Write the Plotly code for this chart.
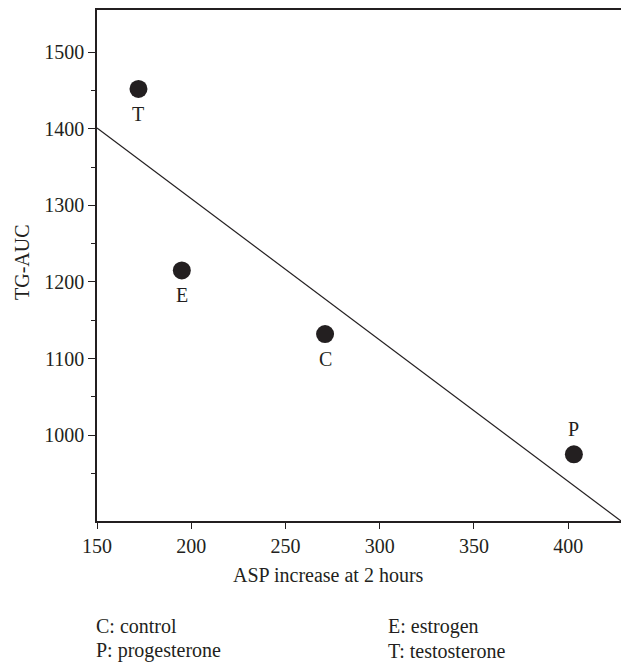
import plotly.graph_objects as go

# Data
groups = ["C", "E", "P", "T"]
asp_increase = [271, 195, 403, 172]
tg_auc = [1132, 1215, 975, 1452]
label_above = [False, False, True, False]

fit_x = [150, 428]
fit_y = [1401, 888]

legend_left = ["C: control", "P: progesterone"]
legend_right = ["E: estrogen", "T: testosterone"]

y_ticks = [1000, 1100, 1200, 1300, 1400, 1500]
x_ticks = [150, 200, 250, 300, 350, 400]

ink = "#231f20"
font_family = "Liberation Serif, Times New Roman, serif"
fs = 20

fig = go.Figure()
fig.add_trace(go.Scatter(
    x=fit_x, y=fit_y, mode="lines",
    line=dict(color=ink, width=1.2), hoverinfo="skip", showlegend=False,
))
fig.add_trace(go.Scatter(
    x=asp_increase, y=tg_auc, mode="markers",
    marker=dict(size=18, color=ink), showlegend=False,
))

W, H = 621, 662
ml, mr, mt, mb = 97, 0, 10, 141
pw = W - ml - mr
ph = H - mt - mb

def px_to_paper_x(px):
    return (px - ml) / pw

def px_to_paper_y(py):
    return (H - mb - py) / ph

annotations = []
for g, xv, yv, above in zip(groups, asp_increase, tg_auc, label_above):
    annotations.append(dict(text=g, x=xv, y=yv, xref="x", yref="y", showarrow=False,
                            xanchor="center", yanchor="middle",
                            yshift=25 if above else -25,
                            font=dict(family=font_family, size=fs, color=ink)))
annotations += [
    dict(text="ASP increase at 2 hours", x=px_to_paper_x(328), y=px_to_paper_y(575),
         xref="paper", yref="paper", showarrow=False, xanchor="center", yanchor="middle",
         font=dict(family=font_family, size=fs, color=ink)),
    dict(text="TG-AUC", x=px_to_paper_x(22), y=px_to_paper_y(262),
         xref="paper", yref="paper", showarrow=False, xanchor="center", yanchor="middle",
         textangle=-90, font=dict(family=font_family, size=fs, color=ink)),
]
for i, t in enumerate(legend_left):
    annotations.append(dict(text=t, x=px_to_paper_x(94), y=px_to_paper_y(626 + i * 25),
                            xref="paper", yref="paper", showarrow=False,
                            xanchor="left", yanchor="middle",
                            font=dict(family=font_family, size=fs, color=ink)))
for i, t in enumerate(legend_right):
    annotations.append(dict(text=t, x=px_to_paper_x(386), y=px_to_paper_y(626 + i * 25),
                            xref="paper", yref="paper", showarrow=False,
                            xanchor="left", yanchor="middle",
                            font=dict(family=font_family, size=fs, color=ink)))

fig.update_layout(
    width=W, height=H,
    margin=dict(l=ml, r=mr, t=mt, b=mb, pad=0),
    paper_bgcolor="white", plot_bgcolor="white",
    font=dict(family=font_family, size=fs, color=ink),
    annotations=annotations,
    xaxis=dict(
        range=[150, 428], tickvals=x_ticks, showgrid=False, zeroline=False,
        showline=True, linecolor=ink, linewidth=1.5, mirror=True,
        ticks="outside", ticklen=6, tickcolor=ink, tickwidth=1.2,
        tickfont=dict(family=font_family, size=fs, color=ink),
    ),
    yaxis=dict(
        range=[888, 1555], tickvals=y_ticks, showgrid=False, zeroline=False,
        showline=True, linecolor=ink, linewidth=1.5, mirror=False,
        ticks="outside", ticklen=7, tickcolor=ink, tickwidth=1.2,
        tickfont=dict(family=font_family, size=fs, color=ink),
        minor=dict(ticks="outside", ticklen=4, tickcolor=ink, tickwidth=1.2,
                   tickvals=[950, 1050, 1150, 1250, 1350, 1450]),
    ),
)

fig.write_html("out.html", config={"displayModeBar": False},
               post_script="document.body.style.margin='0';")
